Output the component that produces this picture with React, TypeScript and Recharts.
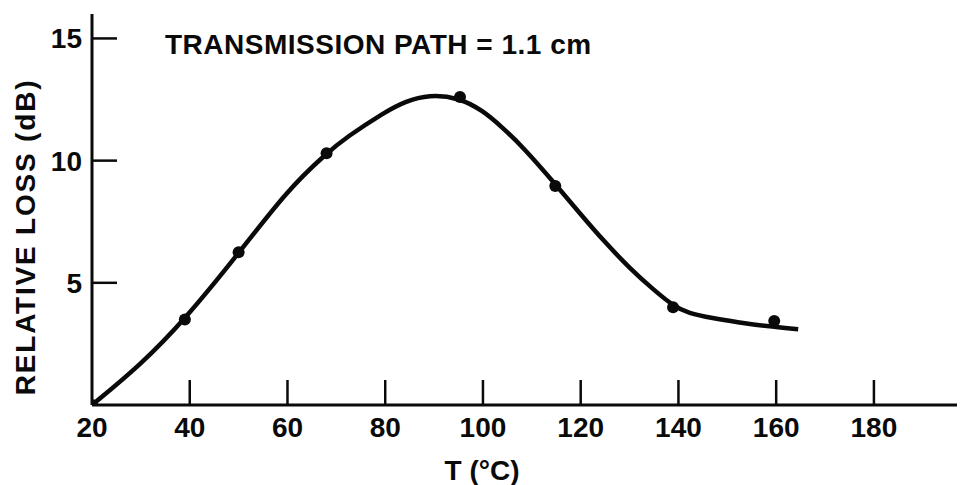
import React from 'react';
import { ComposedChart, Line, Scatter, XAxis, YAxis } from 'recharts';

// Smooth fitted curve (T in °C, relative loss in dB)
const curveT = [20, 30, 39, 50, 60, 68, 72, 80, 84, 89, 95, 100, 104, 108, 115, 120, 125, 130, 135, 139, 142, 147, 152, 158, 164.5];
const curveLoss = [0, 1.65, 3.5, 6.2, 8.8, 10.3, 10.95, 12.0, 12.42, 12.7, 12.58, 12.05, 11.35, 10.6, 9.0, 7.8, 6.65, 5.6, 4.7, 4.05, 3.76, 3.55, 3.39, 3.22, 3.1];

// Measured points
const pointT = [20, 39, 50, 68, 95.3, 114.8, 138.9, 159.6];
const pointLoss = [0, 3.5, 6.25, 10.3, 12.6, 8.96, 4.0, 3.44];

const xTicks = [20, 40, 60, 80, 100, 120, 140, 160, 180];
const yTicks = [5, 10, 15];

const title = 'TRANSMISSION PATH = 1.1 cm';
const xLabel = 'T (°C)';
const yLabel = 'RELATIVE LOSS (dB)';

const curveData = curveT.map((t, i) => ({ x: t, y: curveLoss[i] }));
const pointData = pointT.map((t, i) => ({ x: t, y: pointLoss[i] }));

const FONT = '"Liberation Sans", Arial, sans-serif';
const INK = '#0a0a0a';

const XTick = (props: any) => {
  const { x, y, payload } = props;
  return (
    <g>
      {payload.value !== 20 && (
        <line x1={x} y1={y} x2={x} y2={y - 25} stroke={INK} strokeWidth={2.5} />
      )}
      <text x={x} y={y + 32} textAnchor="middle" fontFamily={FONT} fontWeight={700} fontSize={28} fill={INK}>
        {payload.value}
      </text>
    </g>
  );
};

const YTick = (props: any) => {
  const { x, y, payload } = props;
  return (
    <g>
      <line x1={x} y1={y} x2={x + 25} y2={y} stroke={INK} strokeWidth={2.5} />
      <text x={x - 10} y={y + 10} textAnchor="end" fontFamily={FONT} fontWeight={700} fontSize={28} fill={INK}>
        {payload.value}
      </text>
    </g>
  );
};

const YLabelContent = () => (
  <text
    x={25}
    y={237}
    dy={10}
    transform="rotate(-90, 25, 237)"
    textAnchor="middle"
    fontFamily={FONT}
    fontWeight={700}
    fontSize={28}
    letterSpacing={1.8}
    fill={INK}
  >
    {yLabel}
  </text>
);

const XLabelContent = () => (
  <text x={482} y={480} textAnchor="middle" fontFamily={FONT} fontWeight={700} fontSize={28} fill={INK}>
    {xLabel}
  </text>
);

const Dot = (props: any) => <circle cx={props.cx} cy={props.cy} r={6} fill={INK} />;

export default function App() {
  return (
    <div style={{ position: 'absolute', left: 0, top: 0, width: 966, height: 485, background: '#fff' }}>
      <ComposedChart width={966} height={485} margin={{ top: 14, right: 9, left: 0, bottom: 0 }}>
        <XAxis
          dataKey="x"
          type="number"
          domain={[20, 197]}
          ticks={xTicks}
          interval={0}
          allowDataOverflow
          axisLine={{ stroke: INK, strokeWidth: 3 }}
          tickLine={false}
          tickSize={0}
          tickMargin={0}
          tick={<XTick />}
          height={80}
          label={<XLabelContent />}
        />
        <YAxis
          dataKey="y"
          type="number"
          domain={[0, 16]}
          ticks={yTicks}
          interval={0}
          allowDataOverflow
          axisLine={{ stroke: INK, strokeWidth: 3 }}
          tickLine={false}
          tickSize={0}
          tickMargin={0}
          tick={<YTick />}
          width={92}
          label={<YLabelContent />}
        />
        <Line
          data={curveData}
          dataKey="y"
          type="basis"
          stroke={INK}
          strokeWidth={4.5}
          dot={false}
          activeDot={false}
          isAnimationActive={false}
        />
        <Scatter data={pointData} dataKey="y" fill={INK} shape={<Dot />} isAnimationActive={false} />
      </ComposedChart>
      <div
        style={{
          position: 'absolute',
          left: 165,
          top: 31,
          fontFamily: FONT,
          fontWeight: 700,
          fontSize: 28,
          lineHeight: '28px',
          letterSpacing: 0.5,
          color: INK,
          whiteSpace: 'nowrap',
        }}
      >
        {title}
      </div>
    </div>
  );
}
